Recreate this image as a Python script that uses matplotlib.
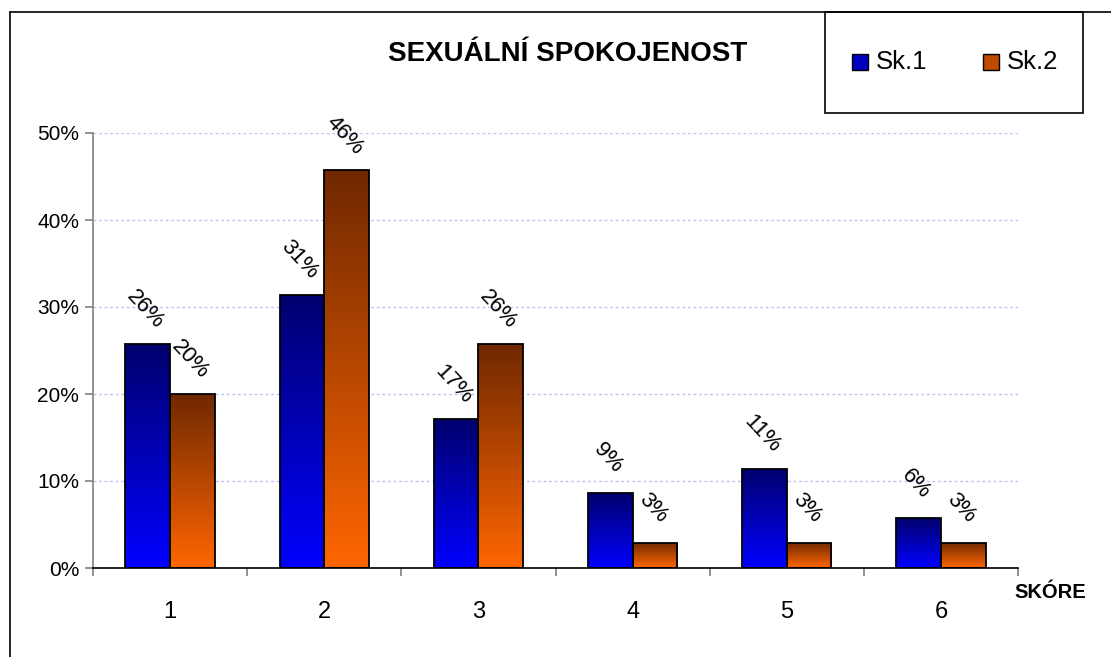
#!/usr/bin/env python3
import numpy as np
import matplotlib
matplotlib.use('Agg')
import matplotlib.pyplot as plt
from matplotlib.colors import LinearSegmentedColormap
from matplotlib.patches import Rectangle
from matplotlib.lines import Line2D

plt.rcParams['font.family'] = ['Liberation Sans', 'DejaVu Sans']

TITLE = "SEXUÁLNÍ SPOKOJENOST"
XLABEL = "SKÓRE"
categories = ["1", "2", "3", "4", "5", "6"]
series_names = ["Sk.1", "Sk.2"]
sk1 = [0.257, 0.314, 0.171, 0.086, 0.114, 0.057]
sk2 = [0.200, 0.457, 0.257, 0.029, 0.029, 0.029]
sk1_labels = ["26%", "31%", "17%", "9%", "11%", "6%"]
sk2_labels = ["20%", "46%", "26%", "3%", "3%", "3%"]
yticks = [0, 0.1, 0.2, 0.3, 0.4, 0.5]
ytick_labels = ["0%", "10%", "20%", "30%", "40%", "50%"]

W, H = 1111, 657
fig = plt.figure(figsize=(W / 100, H / 100), dpi=100)


def px(x, y):
    # figure pixel (from top-left) -> figure fraction
    return x / W, 1 - y / H


# outer frame of the embedded chart
fig.add_artist(Line2D([10 / W, 1], [1 - 12 / H] * 2, color='black', lw=1.2))
fig.add_artist(Line2D([10 / W] * 2, [0, 1 - 12 / H], color='black', lw=1.2))

ax = fig.add_axes([93 / W, 89 / H, 925 / W, 435 / H])

blue_cm = LinearSegmentedColormap.from_list('b', ['#0000ff', '#00006e'])
orange_cm = LinearSegmentedColormap.from_list('o', ['#ff6600', '#702800'])
grad = np.linspace(0, 1, 256).reshape(-1, 1)

x = np.arange(len(categories))
bw = 0.29


def gradient_bars(xs, vals, cmap):
    bars = ax.bar(xs, vals, width=bw, facecolor='none', edgecolor='black',
                  linewidth=1.3, zorder=3)
    for b in bars:
        x0, w, h = b.get_x(), b.get_width(), b.get_height()
        im = ax.imshow(grad, cmap=cmap, extent=[x0, x0 + w, 0, h],
                       origin='lower', aspect='auto', zorder=2)
        im.set_clip_path(b)
    return bars


gradient_bars(x - bw / 2, sk1, blue_cm)
gradient_bars(x + bw / 2, sk2, orange_cm)

for xs, vals, labs in [(x - bw / 2, sk1, sk1_labels), (x + bw / 2, sk2, sk2_labels)]:
    for xi, v, lab in zip(xs, vals, labs):
        ax.text(xi - 0.015, v + 0.04, lab, rotation=-47, ha='center', va='center',
                fontsize=16, rotation_mode='anchor')

ax.set_xlim(-0.5, len(categories) - 0.5)
ax.set_ylim(0, 0.5)
ax.set_yticks(yticks)
ax.set_yticklabels(ytick_labels, fontsize=15)
ax.set_xticks(x)
ax.set_xticklabels(categories, fontsize=17)
ax.set_xticks(np.arange(len(categories) + 1) - 0.5, minor=True)
ax.tick_params(axis='x', which='major', length=0, pad=24)
ax.tick_params(axis='x', which='minor', length=6, color='#808080', width=1.2)
ax.tick_params(axis='y', length=6, color='#808080', width=1.2, pad=4)
ax.grid(axis='y', color='#c0c0fa', linestyle=(0, (2, 2)), linewidth=1.0, zorder=0)
ax.set_axisbelow(True)
for s in ['top', 'right']:
    ax.spines[s].set_visible(False)
ax.spines['left'].set_color('#808080')
ax.spines['left'].set_linewidth(1.2)
ax.spines['bottom'].set_color('black')
ax.spines['bottom'].set_linewidth(1.2)

fig.text(*px(568, 54), TITLE, fontsize=20, fontweight='bold', ha='center', va='center')
fig.text(*px(1050, 593), XLABEL, fontsize=14.5, fontweight='bold', ha='center', va='center')

# legend box
lx0, ly0, lx1, ly1 = 825, 12, 1083, 113
fig.add_artist(Rectangle(px(lx0, ly1), (lx1 - lx0) / W, (ly1 - ly0) / H,
                         transform=fig.transFigure, facecolor='white',
                         edgecolor='black', lw=1.2))
for mx, cm, name in [(852, blue_cm, series_names[0]), (983, orange_cm, series_names[1])]:
    fig.add_artist(Rectangle(px(mx, 70), 16 / W, 16 / H, transform=fig.transFigure,
                             facecolor=cm(0.45), edgecolor='black', lw=1.0))
    fig.text(*px(mx + 24, 62), name, fontsize=18.5, ha='left', va='center')

fig.savefig('out.png', dpi=100)
